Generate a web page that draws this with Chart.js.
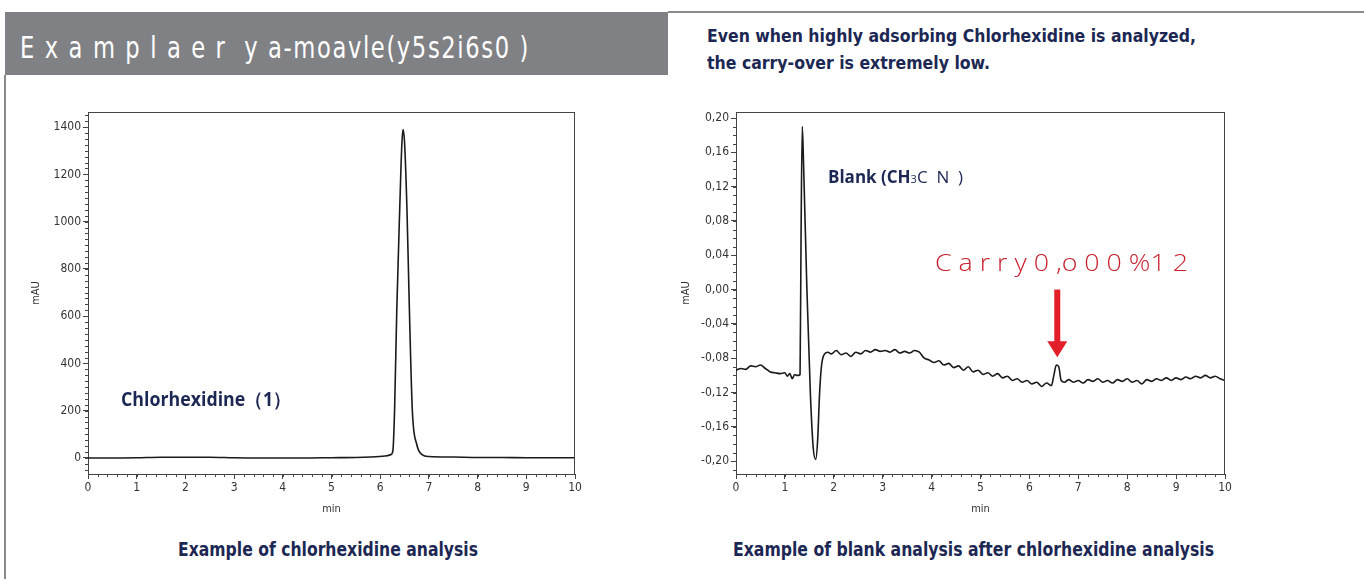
<!DOCTYPE html>
<html>
<head>
<meta charset="utf-8">
<script src="https://cdn.jsdelivr.net/npm/chart.js@4.4.1/dist/chart.umd.min.js"></script>
<style>
  body { margin: 0; width: 1364px; height: 579px; background: #fff; position: relative; overflow: hidden;
         font-family: 'Liberation Sans Narrow', 'DejaVu Sans Condensed', sans-serif; }
  .abs { position: absolute; white-space: nowrap; transform-origin: 0 50%; line-height: 1; }
  #banner { position: absolute; left: 5px; top: 12px; width: 663px; height: 63px; background: #808185; }
  #leftLine { position: absolute; left: 4px; top: 75px; width: 2px; height: 504px; background: #8a8a8d; }
  #topLine { position: absolute; left: 668px; top: 11px; width: 696px; height: 2px; background: #8a8a8d; }
  .navy { color: #1c2753; font-weight: bold; }
  .box { position: absolute; }
</style>
</head>
<body>
<div id="banner"></div>
<div id="leftLine"></div>
<div id="topLine"></div>

<div class="abs" data-w="510" style="left:20px;top:32px;font-size:31px;color:#fff;letter-spacing:2px;font-weight:300;">E x a m p l a e r &nbsp;y a-moavle(y5s2i6s0 )</div>

<div class="abs navy" data-w="489" style="left:707px;top:27px;font-size:18px;">Even when highly adsorbing Chlorhexidine is analyzed,</div>
<div class="abs navy" data-w="283" style="left:707px;top:54px;font-size:18px;">the carry-over is extremely low.</div>

<div class="box" style="left:20px;top:100px;width:580px;height:430px;"><canvas id="leftChart"></canvas></div>
<div class="box" style="left:670px;top:100px;width:580px;height:430px;"><canvas id="rightChart"></canvas></div>

<div class="abs navy" data-w="170" style="left:121px;top:390px;font-size:19px;font-family:'Open Sans',sans-serif;">Chlorhexidine（1）</div>
<div class="abs" style="left:828px;top:168px;font-size:17px;color:#1c2753;font-family:'Open Sans',sans-serif;"><b>Blank (CH</b><span style="font-size:11px;">3</span>C &nbsp;N &nbsp;)</div>
<div class="abs" data-w="253" style="left:935px;top:251px;font-size:23px;color:#c8202e;font-family:'Open Sans',sans-serif;font-weight:300;">C a r r y 0 ,o 0 0 %1 2</div>

<div class="abs navy" data-w="300" style="left:178px;top:540px;font-size:19px;">Example of chlorhexidine analysis</div>
<div class="abs navy" data-w="481" style="left:733px;top:540px;font-size:19px;">Example of blank analysis after chlorhexidine analysis</div>

<script>
// chromatogram of chlorhexidine (min, mAU)
const leftTimes  = [0, 0.5, 1, 1.5, 2, 2.5, 3, 3.5, 4, 4.5, 5, 5.5, 5.8, 6.1, 6.22, 6.26, 6.295, 6.34, 6.40, 6.446, 6.47, 6.50, 6.55, 6.60, 6.66, 6.75, 6.86, 7.0, 7.5, 8, 8.5, 9, 9.5, 10];
const leftValues = [0, 0, 1, 3, 3, 3, 1, 0, 0, 0, 1, 2, 4, 8, 14, 30, 200, 623, 1048, 1335, 1390, 1335, 1048, 623, 200, 58, 14, 6, 4, 2, 2, 1, 1, 1];

// blank run after chlorhexidine (min, mAU)
const rightTimes = [0, 0.1, 0.2, 0.3, 0.4, 0.5, 0.6, 0.7, 0.8, 0.9, 1.0, 1.05, 1.1, 1.15, 1.2, 1.25, 1.28, 1.31,
  1.33, 1.355, 1.38, 1.45, 1.52, 1.58, 1.63, 1.67, 1.71, 1.75, 1.80, 1.88,
  1.95, 2.05, 2.15, 2.25, 2.35, 2.45, 2.55, 2.65, 2.75, 2.85, 2.95, 3.05, 3.15, 3.25, 3.35, 3.45, 3.55, 3.65, 3.75,
  3.85, 3.95, 4.05, 4.15, 4.25, 4.35, 4.45, 4.55, 4.65, 4.75, 4.85, 4.95, 5.05, 5.15, 5.25, 5.35, 5.45, 5.55, 5.65,
  5.75, 5.85, 5.95, 6.05, 6.15, 6.25, 6.35, 6.45, 6.50, 6.55, 6.60, 6.65, 6.72, 6.80, 6.90, 7.00, 7.10, 7.20, 7.30,
  7.40, 7.50, 7.60, 7.70, 7.80, 7.90, 8.00, 8.10, 8.20, 8.30, 8.40, 8.50, 8.60, 8.70, 8.80, 8.90, 9.00, 9.10, 9.20,
  9.30, 9.40, 9.50, 9.60, 9.70, 9.80, 9.90, 10.00];
const rightValues = [-0.094, -0.092, -0.093, -0.089, -0.090, -0.088, -0.092, -0.096, -0.097, -0.098, -0.097, -0.101, -0.098, -0.104, -0.099, -0.100, -0.100, -0.099,
  0.060, 0.190, 0.150, 0.000, -0.120, -0.185, -0.198, -0.175, -0.120, -0.088, -0.076, -0.073,
  -0.075, -0.071, -0.076, -0.074, -0.078, -0.073, -0.075, -0.071, -0.073, -0.070, -0.072, -0.071, -0.073, -0.070, -0.074, -0.072, -0.074, -0.071, -0.073,
  -0.080, -0.082, -0.085, -0.083, -0.088, -0.086, -0.091, -0.089, -0.094, -0.090, -0.096, -0.094, -0.099, -0.097, -0.101, -0.098, -0.103, -0.101, -0.106,
  -0.104, -0.108, -0.106, -0.110, -0.108, -0.113, -0.109, -0.112, -0.100, -0.088, -0.090, -0.106, -0.108, -0.105, -0.108, -0.106, -0.109, -0.105, -0.107,
  -0.104, -0.108, -0.106, -0.109, -0.105, -0.107, -0.104, -0.108, -0.106, -0.110, -0.105, -0.107, -0.104, -0.106, -0.103, -0.106, -0.103, -0.105, -0.102,
  -0.104, -0.101, -0.103, -0.100, -0.103, -0.101, -0.104, -0.106];

// x tick labels are the plain minutes 0..10
const minuteTicks = [0, 1, 2, 3, 4, 5, 6, 7, 8, 9, 10];

// where the red arrow points (carry-over peak)
const arrowTime = 6.57, arrowFrom = 0.0, arrowTo = -0.079;

const axisFont = { family: "'Liberation Sans Narrow', 'DejaVu Sans Condensed', sans-serif", size: 12 };
const inkColor = '#444';

// frame on top/right plus minor tick marks
const frameAndMinor = {
    id: 'frameAndMinor',
    afterDraw(chart, args, opts) {
        const { ctx, chartArea: { left, right, top, bottom }, scales: { x, y } } = chart;
        ctx.save();
        ctx.strokeStyle = inkColor;
        ctx.lineWidth = 1;
        ctx.beginPath();
        ctx.moveTo(left, top + 0.5); ctx.lineTo(right, top + 0.5);
        ctx.moveTo(right - 0.5, top); ctx.lineTo(right - 0.5, bottom);
        for (let v = x.min; v <= x.max + 1e-9; v += opts.xStep) {
            const px = Math.round(x.getPixelForValue(v)) + 0.5;
            ctx.moveTo(px, bottom); ctx.lineTo(px, bottom + 3);
        }
        for (let v = Math.ceil(y.min / opts.yStep) * opts.yStep; v <= y.max; v += opts.yStep) {
            const py = Math.round(y.getPixelForValue(v)) + 0.5;
            ctx.moveTo(left, py); ctx.lineTo(left - 3, py);
        }
        ctx.stroke();
        ctx.restore();
    }
};

const arrowPlugin = {
    id: 'arrowPlugin',
    afterDraw(chart, args, opts) {
        if (!opts.show) return;
        const { ctx, scales: { x, y } } = chart;
        const ax = x.getPixelForValue(arrowTime);
        const y0 = y.getPixelForValue(arrowFrom);
        const y1 = y.getPixelForValue(arrowTo);
        ctx.save();
        ctx.fillStyle = '#e3202a';
        ctx.fillRect(ax - 3, y0, 6, y1 - y0 - 14);
        ctx.beginPath();
        ctx.moveTo(ax - 10, y1 - 16);
        ctx.lineTo(ax + 10, y1 - 16);
        ctx.lineTo(ax, y1);
        ctx.closePath();
        ctx.fill();
        ctx.restore();
    }
};

function makeChart(id, times, values, yOpts, yAxisWidth, minor, showArrow) {
    return new Chart(id, {
        type: 'line',
        data: {
            datasets: [{
                data: times.map((t, i) => ({ x: t, y: values[i] })),
                borderColor: '#1a1a1a',
                borderWidth: 1.6,
                pointRadius: 0,
                cubicInterpolationMode: 'monotone',
                fill: false
            }]
        },
        options: {
            responsive: true,
            maintainAspectRatio: false,
            animation: false,
            layout: { padding: { top: 12, right: 25, left: 0, bottom: 0 } },
            plugins: {
                legend: false,
                tooltip: { enabled: false },
                frameAndMinor: minor,
                arrowPlugin: { show: showArrow }
            },
            scales: {
                x: {
                    type: 'linear',
                    min: 0, max: 10,
                    afterFit(scale) { scale.height = 56; },
                    afterBuildTicks(scale) { scale.ticks = minuteTicks.map(v => ({ value: v })); },
                    ticks: { color: '#333', font: axisFont, padding: 2, maxRotation: 0 },
                    grid: { drawOnChartArea: false, tickLength: 5, color: inkColor },
                    border: { color: inkColor },
                    title: { display: true, text: 'min', color: '#333', font: { ...axisFont, size: 11 }, padding: { top: 0, bottom: 14 } }
                },
                y: Object.assign({
                    afterFit(scale) { scale.width = yAxisWidth; },
                    ticks: Object.assign({ color: '#333', font: axisFont, padding: 2 }, yOpts.ticks),
                    grid: { drawOnChartArea: false, tickLength: 5, color: inkColor },
                    border: { color: inkColor },
                    title: { display: true, text: 'mAU', color: '#333', font: { ...axisFont, size: 11 }, padding: { top: 10, bottom: 0 } }
                }, yOpts.range)
            }
        },
        plugins: [frameAndMinor, arrowPlugin]
    });
}

makeChart('leftChart', leftTimes, leftValues,
    { range: { min: -68, max: 1464 }, ticks: { stepSize: 200, includeBounds: false, callback: v => String(v) } },
    68, { xStep: 0.2, yStep: 25 }, false);

makeChart('rightChart', rightTimes, rightValues,
    { range: { min: -0.215, max: 0.207 },
      ticks: { stepSize: 0.04, includeBounds: false, callback: v => v.toFixed(2).replace('.', ',') } },
    66, { xStep: 0.2, yStep: 0.01 }, true);

// squeeze text blocks to the widths seen in the picture
document.querySelectorAll('[data-w]').forEach(el => {
    const w = el.getBoundingClientRect().width;
    el.style.transform = 'scaleX(' + (parseFloat(el.dataset.w) / w) + ')';
});
</script>
</body>
</html>
